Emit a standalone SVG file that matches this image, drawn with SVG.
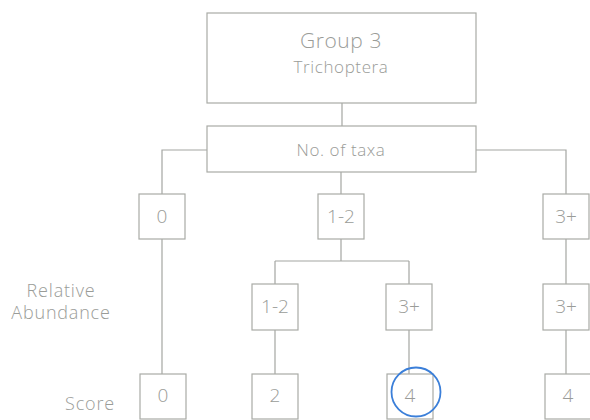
<svg xmlns="http://www.w3.org/2000/svg" width="590" height="420" viewBox="0 0 590 420">
<style>
.box{fill:#ffffff;stroke:#a9aba6;stroke-width:1.2}
.ln{fill:none;stroke:#a4a6a2;stroke-width:1.2}
text{font-family:"Open Sans","Liberation Sans",sans-serif;font-weight:300;fill:#9a9c98;text-anchor:middle}
.big{font-size:21px;letter-spacing:0.6px}
.mid{font-size:17px;letter-spacing:0.6px}
.num{font-size:19px}
.lab{font-size:18px;letter-spacing:0.8px}
</style>
<rect width="590" height="420" fill="#ffffff"/>
<g id="connectors">
<path class="ln" d="M342,103 V126"/>
<path class="ln" d="M207,150 H162 V194"/>
<path class="ln" d="M341,172 V194"/>
<path class="ln" d="M476,150 H566 V194"/>
<path class="ln" d="M162,239 V374"/>
<path class="ln" d="M341,239 V261 M275,261 H409 M275,261 V284 M409,261 V284"/>
<path class="ln" d="M566,239 V284"/>
<path class="ln" d="M275,330 V374"/>
<path class="ln" d="M409,330 V374"/>
<path class="ln" d="M566,330 V374"/>
</g>
<g id="group3">
<rect class="box" x="207" y="13" width="269" height="90"/>
<text class="big" x="341" y="48">Group 3</text>
<text class="mid" x="341" y="73">Trichoptera</text>
</g>
<g id="taxa">
<rect class="box" x="207" y="126" width="269" height="46"/>
<text class="mid" x="341" y="156">No. of taxa</text>
</g>
<g id="t0"><rect class="box" x="139" y="194" width="46" height="45"/><text class="num" x="162" y="223">0</text></g>
<g id="t12"><rect class="box" x="318" y="194" width="46" height="45"/><text class="num" x="341" y="223">1-2</text></g>
<g id="t3p"><rect class="box" x="543" y="194" width="46" height="45"/><text class="num" x="566" y="223">3+</text></g>
<g id="a12"><rect class="box" x="252" y="284" width="46" height="46"/><text class="num" x="275" y="313">1-2</text></g>
<g id="a3p"><rect class="box" x="386" y="284" width="46" height="46"/><text class="num" x="409" y="313">3+</text></g>
<g id="b3p"><rect class="box" x="543" y="284" width="46" height="46"/><text class="num" x="566" y="313">3+</text></g>
<g id="s0"><rect class="box" x="140" y="374" width="46" height="45"/><text class="num" x="163" y="402">0</text></g>
<g id="s2"><rect class="box" x="252" y="374" width="46" height="45"/><text class="num" x="275" y="402">2</text></g>
<g id="s4a"><rect class="box" x="387" y="374" width="46" height="45"/><text class="num" x="410" y="402">4</text></g>
<g id="s4b"><rect class="box" x="545" y="374" width="46" height="45"/><text class="num" x="568" y="402">4</text></g>
<circle cx="416" cy="392" r="24.5" fill="none" stroke="#3b7fd9" stroke-width="1.8"/>
<g id="labels">
<text class="lab" x="61" y="297">Relative</text>
<text class="lab" x="61" y="319">Abundance</text>
<text class="lab" x="90" y="410">Score</text>
</g>
</svg>
